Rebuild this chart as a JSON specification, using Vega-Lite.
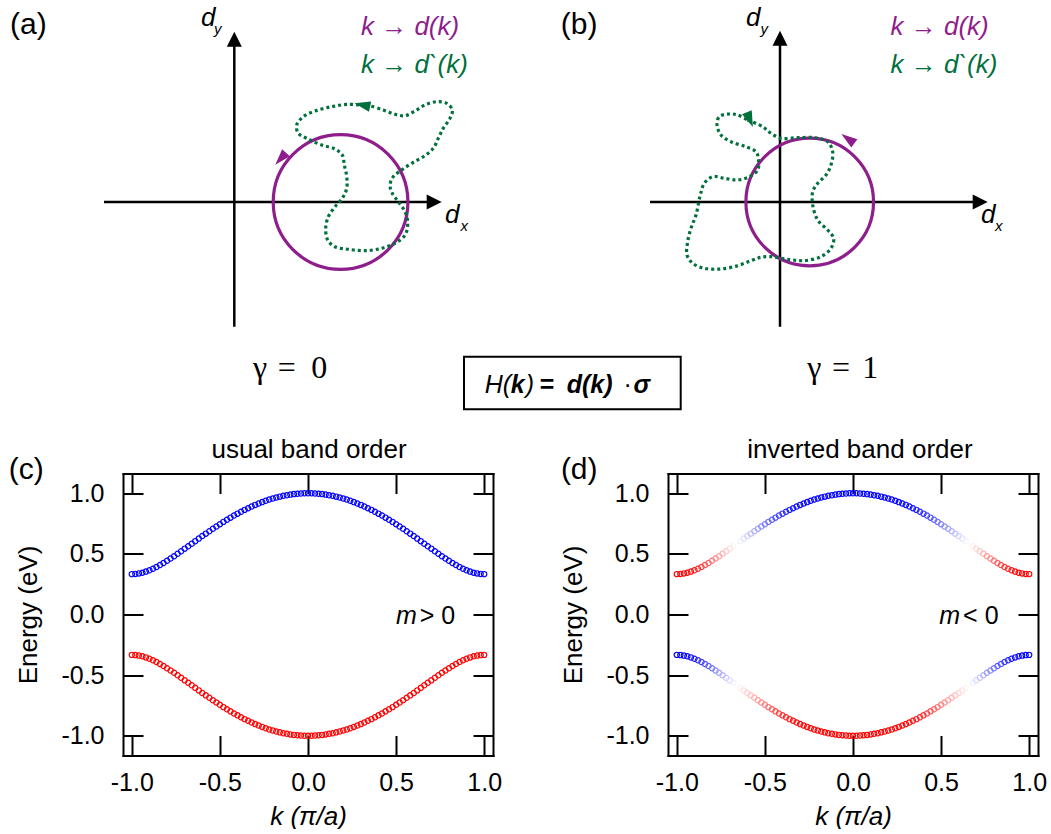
{
  "$schema": "https://vega.github.io/schema/vega-lite/v6.json",
  "background": "white",
  "padding": 0,
  "config": {
    "view": {"stroke": null},
    "font": "Liberation Sans",
    "text": {"font": "Liberation Sans", "color": "black"},
    "axis": {"labelColor": "black", "titleColor": "black", "domainColor": "black", "tickColor": "black", "grid": false, "labelFont": "Liberation Sans", "titleFont": "Liberation Sans", "titleFontWeight": "normal"}
  },
  "datasets": {
    "bands": [
      {"k":-1,"E":0.333,"b":"u","w":-1},{"k":-0.98,"E":0.335,"b":"u","w":-1},{"k":-0.96,"E":0.339,"b":"u","w":-0.99},{"k":-0.94,"E":0.345,"b":"u","w":-0.97},{"k":-0.92,"E":0.354,"b":"u","w":-0.94},{"k":-0.9,"E":0.365,"b":"u","w":-0.9},{"k":-0.88,"E":0.377,"b":"u","w":-0.84},{"k":-0.86,"E":0.392,"b":"u","w":-0.77},{"k":-0.84,"E":0.408,"b":"u","w":-0.7},{"k":-0.82,"E":0.425,"b":"u","w":-0.62},{"k":-0.8,"E":0.443,"b":"u","w":-0.54},{"k":-0.78,"E":0.462,"b":"u","w":-0.46},{"k":-0.76,"E":0.481,"b":"u","w":-0.38},{"k":-0.74,"E":0.501,"b":"u","w":-0.3},{"k":-0.72,"E":0.522,"b":"u","w":-0.22},{"k":-0.7,"E":0.543,"b":"u","w":-0.14},{"k":-0.68,"E":0.563,"b":"u","w":-0.07},{"k":-0.66,"E":0.584,"b":"u","w":0},{"k":-0.64,"E":0.605,"b":"u","w":0.06},{"k":-0.62,"E":0.626,"b":"u","w":0.12},{"k":-0.6,"E":0.647,"b":"u","w":0.18},{"k":-0.58,"E":0.667,"b":"u","w":0.24},{"k":-0.56,"E":0.687,"b":"u","w":0.31},{"k":-0.54,"E":0.707,"b":"u","w":0.37},{"k":-0.52,"E":0.726,"b":"u","w":0.44},{"k":-0.5,"E":0.745,"b":"u","w":0.5},{"k":-0.48,"E":0.764,"b":"u","w":0.56},{"k":-0.46,"E":0.782,"b":"u","w":0.62},{"k":-0.44,"E":0.799,"b":"u","w":0.68},{"k":-0.42,"E":0.816,"b":"u","w":0.74},{"k":-0.4,"E":0.832,"b":"u","w":0.79},{"k":-0.38,"E":0.848,"b":"u","w":0.84},{"k":-0.36,"E":0.863,"b":"u","w":0.88},{"k":-0.34,"E":0.877,"b":"u","w":0.92},{"k":-0.32,"E":0.891,"b":"u","w":0.95},{"k":-0.3,"E":0.904,"b":"u","w":0.97},{"k":-0.28,"E":0.916,"b":"u","w":1},{"k":-0.26,"E":0.927,"b":"u","w":1},{"k":-0.24,"E":0.938,"b":"u","w":1},{"k":-0.22,"E":0.948,"b":"u","w":1},{"k":-0.2,"E":0.957,"b":"u","w":1},{"k":-0.18,"E":0.965,"b":"u","w":1},{"k":-0.16,"E":0.972,"b":"u","w":1},{"k":-0.14,"E":0.979,"b":"u","w":1},{"k":-0.12,"E":0.984,"b":"u","w":1},{"k":-0.1,"E":0.989,"b":"u","w":1},{"k":-0.08,"E":0.993,"b":"u","w":1},{"k":-0.06,"E":0.996,"b":"u","w":1},{"k":-0.04,"E":0.998,"b":"u","w":1},{"k":-0.02,"E":1.0,"b":"u","w":1},{"k":0,"E":1.0,"b":"u","w":1},
      {"k":0.02,"E":1.0,"b":"u","w":1},{"k":0.04,"E":0.998,"b":"u","w":1},{"k":0.06,"E":0.996,"b":"u","w":1},{"k":0.08,"E":0.993,"b":"u","w":1},{"k":0.1,"E":0.989,"b":"u","w":1},{"k":0.12,"E":0.984,"b":"u","w":1},{"k":0.14,"E":0.979,"b":"u","w":1},{"k":0.16,"E":0.972,"b":"u","w":1},{"k":0.18,"E":0.965,"b":"u","w":1},{"k":0.2,"E":0.957,"b":"u","w":1},{"k":0.22,"E":0.948,"b":"u","w":1},{"k":0.24,"E":0.938,"b":"u","w":1},{"k":0.26,"E":0.927,"b":"u","w":1},{"k":0.28,"E":0.916,"b":"u","w":1},{"k":0.3,"E":0.904,"b":"u","w":0.97},{"k":0.32,"E":0.891,"b":"u","w":0.95},{"k":0.34,"E":0.877,"b":"u","w":0.92},{"k":0.36,"E":0.863,"b":"u","w":0.88},{"k":0.38,"E":0.848,"b":"u","w":0.84},{"k":0.4,"E":0.832,"b":"u","w":0.79},{"k":0.42,"E":0.816,"b":"u","w":0.74},{"k":0.44,"E":0.799,"b":"u","w":0.68},{"k":0.46,"E":0.782,"b":"u","w":0.62},{"k":0.48,"E":0.764,"b":"u","w":0.56},{"k":0.5,"E":0.745,"b":"u","w":0.5},{"k":0.52,"E":0.726,"b":"u","w":0.44},{"k":0.54,"E":0.707,"b":"u","w":0.37},{"k":0.56,"E":0.687,"b":"u","w":0.31},{"k":0.58,"E":0.667,"b":"u","w":0.24},{"k":0.6,"E":0.647,"b":"u","w":0.18},{"k":0.62,"E":0.626,"b":"u","w":0.12},{"k":0.64,"E":0.605,"b":"u","w":0.06},{"k":0.66,"E":0.584,"b":"u","w":0},{"k":0.68,"E":0.563,"b":"u","w":-0.07},{"k":0.7,"E":0.543,"b":"u","w":-0.14},{"k":0.72,"E":0.522,"b":"u","w":-0.22},{"k":0.74,"E":0.501,"b":"u","w":-0.3},{"k":0.76,"E":0.481,"b":"u","w":-0.38},{"k":0.78,"E":0.462,"b":"u","w":-0.46},{"k":0.8,"E":0.443,"b":"u","w":-0.54},{"k":0.82,"E":0.425,"b":"u","w":-0.62},{"k":0.84,"E":0.408,"b":"u","w":-0.7},{"k":0.86,"E":0.392,"b":"u","w":-0.77},{"k":0.88,"E":0.377,"b":"u","w":-0.84},{"k":0.9,"E":0.365,"b":"u","w":-0.9},{"k":0.92,"E":0.354,"b":"u","w":-0.94},{"k":0.94,"E":0.345,"b":"u","w":-0.97},{"k":0.96,"E":0.339,"b":"u","w":-0.99},{"k":0.98,"E":0.335,"b":"u","w":-1},{"k":1,"E":0.333,"b":"u","w":-1},
      {"k":-1,"E":-0.333,"b":"l","w":1},{"k":-0.98,"E":-0.335,"b":"l","w":1},{"k":-0.96,"E":-0.339,"b":"l","w":0.99},{"k":-0.94,"E":-0.345,"b":"l","w":0.97},{"k":-0.92,"E":-0.354,"b":"l","w":0.94},{"k":-0.9,"E":-0.365,"b":"l","w":0.9},{"k":-0.88,"E":-0.377,"b":"l","w":0.84},{"k":-0.86,"E":-0.392,"b":"l","w":0.77},{"k":-0.84,"E":-0.408,"b":"l","w":0.7},{"k":-0.82,"E":-0.425,"b":"l","w":0.62},{"k":-0.8,"E":-0.443,"b":"l","w":0.54},{"k":-0.78,"E":-0.462,"b":"l","w":0.46},{"k":-0.76,"E":-0.481,"b":"l","w":0.38},{"k":-0.74,"E":-0.501,"b":"l","w":0.3},{"k":-0.72,"E":-0.522,"b":"l","w":0.22},{"k":-0.7,"E":-0.543,"b":"l","w":0.14},{"k":-0.68,"E":-0.563,"b":"l","w":0.07},{"k":-0.66,"E":-0.584,"b":"l","w":0},{"k":-0.64,"E":-0.605,"b":"l","w":-0.06},{"k":-0.62,"E":-0.626,"b":"l","w":-0.12},{"k":-0.6,"E":-0.647,"b":"l","w":-0.18},{"k":-0.58,"E":-0.667,"b":"l","w":-0.24},{"k":-0.56,"E":-0.687,"b":"l","w":-0.31},{"k":-0.54,"E":-0.707,"b":"l","w":-0.37},{"k":-0.52,"E":-0.726,"b":"l","w":-0.44},{"k":-0.5,"E":-0.745,"b":"l","w":-0.5},{"k":-0.48,"E":-0.764,"b":"l","w":-0.56},{"k":-0.46,"E":-0.782,"b":"l","w":-0.62},{"k":-0.44,"E":-0.799,"b":"l","w":-0.68},{"k":-0.42,"E":-0.816,"b":"l","w":-0.74},{"k":-0.4,"E":-0.832,"b":"l","w":-0.79},{"k":-0.38,"E":-0.848,"b":"l","w":-0.84},{"k":-0.36,"E":-0.863,"b":"l","w":-0.88},{"k":-0.34,"E":-0.877,"b":"l","w":-0.92},{"k":-0.32,"E":-0.891,"b":"l","w":-0.95},{"k":-0.3,"E":-0.904,"b":"l","w":-0.97},{"k":-0.28,"E":-0.916,"b":"l","w":-1},{"k":-0.26,"E":-0.927,"b":"l","w":-1},{"k":-0.24,"E":-0.938,"b":"l","w":-1},{"k":-0.22,"E":-0.948,"b":"l","w":-1},{"k":-0.2,"E":-0.957,"b":"l","w":-1},{"k":-0.18,"E":-0.965,"b":"l","w":-1},{"k":-0.16,"E":-0.972,"b":"l","w":-1},{"k":-0.14,"E":-0.979,"b":"l","w":-1},{"k":-0.12,"E":-0.984,"b":"l","w":-1},{"k":-0.1,"E":-0.989,"b":"l","w":-1},{"k":-0.08,"E":-0.993,"b":"l","w":-1},{"k":-0.06,"E":-0.996,"b":"l","w":-1},{"k":-0.04,"E":-0.998,"b":"l","w":-1},{"k":-0.02,"E":-1.0,"b":"l","w":-1},{"k":0,"E":-1.0,"b":"l","w":-1},
      {"k":0.02,"E":-1.0,"b":"l","w":-1},{"k":0.04,"E":-0.998,"b":"l","w":-1},{"k":0.06,"E":-0.996,"b":"l","w":-1},{"k":0.08,"E":-0.993,"b":"l","w":-1},{"k":0.1,"E":-0.989,"b":"l","w":-1},{"k":0.12,"E":-0.984,"b":"l","w":-1},{"k":0.14,"E":-0.979,"b":"l","w":-1},{"k":0.16,"E":-0.972,"b":"l","w":-1},{"k":0.18,"E":-0.965,"b":"l","w":-1},{"k":0.2,"E":-0.957,"b":"l","w":-1},{"k":0.22,"E":-0.948,"b":"l","w":-1},{"k":0.24,"E":-0.938,"b":"l","w":-1},{"k":0.26,"E":-0.927,"b":"l","w":-1},{"k":0.28,"E":-0.916,"b":"l","w":-1},{"k":0.3,"E":-0.904,"b":"l","w":-0.97},{"k":0.32,"E":-0.891,"b":"l","w":-0.95},{"k":0.34,"E":-0.877,"b":"l","w":-0.92},{"k":0.36,"E":-0.863,"b":"l","w":-0.88},{"k":0.38,"E":-0.848,"b":"l","w":-0.84},{"k":0.4,"E":-0.832,"b":"l","w":-0.79},{"k":0.42,"E":-0.816,"b":"l","w":-0.74},{"k":0.44,"E":-0.799,"b":"l","w":-0.68},{"k":0.46,"E":-0.782,"b":"l","w":-0.62},{"k":0.48,"E":-0.764,"b":"l","w":-0.56},{"k":0.5,"E":-0.745,"b":"l","w":-0.5},{"k":0.52,"E":-0.726,"b":"l","w":-0.44},{"k":0.54,"E":-0.707,"b":"l","w":-0.37},{"k":0.56,"E":-0.687,"b":"l","w":-0.31},{"k":0.58,"E":-0.667,"b":"l","w":-0.24},{"k":0.6,"E":-0.647,"b":"l","w":-0.18},{"k":0.62,"E":-0.626,"b":"l","w":-0.12},{"k":0.64,"E":-0.605,"b":"l","w":-0.06},{"k":0.66,"E":-0.584,"b":"l","w":0},{"k":0.68,"E":-0.563,"b":"l","w":0.07},{"k":0.7,"E":-0.543,"b":"l","w":0.14},{"k":0.72,"E":-0.522,"b":"l","w":0.22},{"k":0.74,"E":-0.501,"b":"l","w":0.3},{"k":0.76,"E":-0.481,"b":"l","w":0.38},{"k":0.78,"E":-0.462,"b":"l","w":0.46},{"k":0.8,"E":-0.443,"b":"l","w":0.54},{"k":0.82,"E":-0.425,"b":"l","w":0.62},{"k":0.84,"E":-0.408,"b":"l","w":0.7},{"k":0.86,"E":-0.392,"b":"l","w":0.77},{"k":0.88,"E":-0.377,"b":"l","w":0.84},{"k":0.9,"E":-0.365,"b":"l","w":0.9},{"k":0.92,"E":-0.354,"b":"l","w":0.94},{"k":0.94,"E":-0.345,"b":"l","w":0.97},{"k":0.96,"E":-0.339,"b":"l","w":0.99},{"k":0.98,"E":-0.335,"b":"l","w":1},{"k":1,"E":-0.333,"b":"l","w":1}
    ],
    "curveA": [
      {"i":1,"x":1.697,"y":1.251},{"i":2,"x":1.481,"y":1.269},{"i":3,"x":1.265,"y":1.238},{"i":4,"x":1.048,"y":1.182},{"i":5,"x":0.896,"y":1.108},{"i":6,"x":0.81,"y":1.0},{"i":7,"x":0.831,"y":0.892},{"i":8,"x":0.961,"y":0.818},{"i":9,"x":1.135,"y":0.74},{"i":10,"x":1.308,"y":0.688},{"i":11,"x":1.403,"y":0.61},{"i":12,"x":1.429,"y":0.481},{"i":13,"x":1.46,"y":0.329},{"i":14,"x":1.46,"y":0.178},{"i":15,"x":1.403,"y":0.048},{"i":16,"x":1.308,"y":-0.061},{"i":17,"x":1.221,"y":-0.191},{"i":18,"x":1.187,"y":-0.342},{"i":19,"x":1.213,"y":-0.494},{"i":20,"x":1.308,"y":-0.581},{"i":21,"x":1.481,"y":-0.614},{"i":22,"x":1.697,"y":-0.632},{"i":23,"x":1.914,"y":-0.601},{"i":24,"x":2.087,"y":-0.536},{"i":25,"x":2.217,"y":-0.429},{"i":26,"x":2.252,"y":-0.277},{"i":27,"x":2.217,"y":-0.126},{"i":28,"x":2.13,"y":0.004},{"i":29,"x":2.052,"y":0.113},{"i":30,"x":2.022,"y":0.221},{"i":31,"x":2.065,"y":0.329},{"i":32,"x":2.174,"y":0.416},{"i":33,"x":2.304,"y":0.503},{"i":34,"x":2.455,"y":0.588},{"i":35,"x":2.584,"y":0.697},{"i":36,"x":2.649,"y":0.827},{"i":37,"x":2.714,"y":0.957},{"i":38,"x":2.801,"y":1.087},{"i":39,"x":2.831,"y":1.195},{"i":40,"x":2.758,"y":1.282},{"i":41,"x":2.629,"y":1.303},{"i":42,"x":2.477,"y":1.26},{"i":43,"x":2.347,"y":1.182},{"i":44,"x":2.217,"y":1.121},{"i":45,"x":2.087,"y":1.139},{"i":46,"x":1.935,"y":1.195},{"i":47,"x":1.762,"y":1.247},{"i":48,"x":1.697,"y":1.251}
    ],
    "curveB": [
      {"i":1,"x":-0.42,"y":1.065},{"i":2,"x":-0.225,"y":0.978},{"i":3,"x":-0.117,"y":0.892},{"i":4,"x":0.013,"y":0.827},{"i":5,"x":0.23,"y":0.835},{"i":6,"x":0.446,"y":0.835},{"i":7,"x":0.619,"y":0.783},{"i":8,"x":0.684,"y":0.653},{"i":9,"x":0.662,"y":0.481},{"i":10,"x":0.597,"y":0.351},{"i":11,"x":0.49,"y":0.243},{"i":12,"x":0.425,"y":0.134},{"i":13,"x":0.425,"y":-0.039},{"i":14,"x":0.49,"y":-0.234},{"i":15,"x":0.619,"y":-0.364},{"i":16,"x":0.697,"y":-0.471},{"i":17,"x":0.662,"y":-0.601},{"i":18,"x":0.532,"y":-0.71},{"i":19,"x":0.316,"y":-0.762},{"i":20,"x":0.1,"y":-0.744},{"i":21,"x":-0.117,"y":-0.71},{"i":22,"x":-0.247,"y":-0.718},{"i":23,"x":-0.377,"y":-0.762},{"i":24,"x":-0.549,"y":-0.827},{"i":25,"x":-0.766,"y":-0.87},{"i":26,"x":-0.983,"y":-0.861},{"i":27,"x":-1.134,"y":-0.796},{"i":28,"x":-1.208,"y":-0.688},{"i":29,"x":-1.199,"y":-0.516},{"i":30,"x":-1.156,"y":-0.342},{"i":31,"x":-1.091,"y":-0.169},{"i":32,"x":-1.035,"y":0.091},{"i":33,"x":-0.983,"y":0.243},{"i":34,"x":-0.874,"y":0.329},{"i":35,"x":-0.723,"y":0.308},{"i":36,"x":-0.549,"y":0.286},{"i":37,"x":-0.399,"y":0.329},{"i":38,"x":-0.29,"y":0.416},{"i":39,"x":-0.282,"y":0.567},{"i":40,"x":-0.312,"y":0.653},{"i":41,"x":-0.442,"y":0.718},{"i":42,"x":-0.636,"y":0.783},{"i":43,"x":-0.766,"y":0.87},{"i":44,"x":-0.818,"y":1.0},{"i":45,"x":-0.788,"y":1.108},{"i":46,"x":-0.658,"y":1.143},{"i":47,"x":-0.549,"y":1.13},{"i":48,"x":-0.42,"y":1.065}
    ]
  },
  "bounds": "full",
  "spacing": 6.5,
  "vconcat": [
    {
      "bounds": "flush",
      "spacing": 0,
      "hconcat": [
        {
          "width": 463.3,
          "height": 430,
          "encoding": {
            "x": {"field": "x", "type": "quantitative", "scale": {"domain": [-3.0429, 2.974], "nice": false, "zero": false}, "axis": null},
            "y": {"field": "y", "type": "quantitative", "scale": {"domain": [-2.961, 2.6234], "nice": false, "zero": false}, "axis": null}
          },
          "layer": [
            {"data": {"values": [{"x": -1.692, "y": 0, "x2": 2.62, "y2": 0}, {"x": 0, "y": -1.619, "x2": 0, "y2": 2.1}]}, "mark": {"type": "rule", "color": "black", "strokeWidth": 2.5}, "encoding": {"x2": {"field": "x2"}, "y2": {"field": "y2"}}},
            {"data": {"values": [{"x": 2.596, "y": 0, "dir": 90}, {"x": 0, "y": 2.114, "dir": 0}]}, "mark": {"type": "point", "shape": "M0,-1L1,1L-1,1Z", "filled": true, "size": 225, "color": "black", "opacity": 1}, "encoding": {"angle": {"field": "dir", "type": "quantitative", "scale": null}}},
            {"data": {"values": [{"x": 1.38, "y": 0}]}, "mark": {"type": "point", "shape": "circle", "filled": false, "size": 18146, "color": "#8E1E8C", "strokeWidth": 3.2, "opacity": 1}},
            {"data": {"name": "curveA"}, "mark": {"type": "line", "color": "#00703C", "strokeWidth": 3.2, "strokeDash": [3, 3], "strokeCap": "butt", "interpolate": "catmull-rom"}, "encoding": {"order": {"field": "i", "type": "quantitative"}}},
            {"data": {"values": [{"x": 0.602, "y": 0.562, "dir": 222}]}, "mark": {"type": "point", "shape": "M0,-1L0.65,1L-0.65,1Z", "filled": true, "size": 256, "color": "#8E1E8C", "opacity": 1}, "encoding": {"angle": {"field": "dir", "type": "quantitative", "scale": null}}},
            {"data": {"values": [{"x": 1.662, "y": 1.261, "dir": 282}]}, "mark": {"type": "point", "shape": "M0,-1L0.65,1L-0.65,1Z", "filled": true, "size": 256, "color": "#00703C", "opacity": 1}, "encoding": {"angle": {"field": "dir", "type": "quantitative", "scale": null}}},
            {"data": {"values": [{"x": -2.913, "y": 2.182, "t": "(a)"}]}, "mark": {"type": "text", "fontSize": 30, "align": "left", "baseline": "alphabetic"}, "encoding": {"text": {"field": "t"}}},
            {"data": {"values": [{"x": -0.432, "y": 2.292, "t": "d"}, {"x": 2.736, "y": -0.277, "t": "d"}]}, "mark": {"type": "text", "fontSize": 26, "fontStyle": "italic", "align": "left", "baseline": "alphabetic"}, "encoding": {"text": {"field": "t"}}},
            {"data": {"values": [{"x": -0.264, "y": 2.188, "t": "y"}, {"x": 2.938, "y": -0.383, "t": "x"}]}, "mark": {"type": "text", "fontSize": 15, "fontStyle": "italic", "align": "left", "baseline": "alphabetic"}, "encoding": {"text": {"field": "t"}}},
            {"data": {"values": [{"x": 1.645, "y": 2.169, "t": "k → d(k)"}]}, "mark": {"type": "text", "fontSize": 26, "fontStyle": "italic", "align": "left", "baseline": "alphabetic", "color": "#8E1E8C"}, "encoding": {"text": {"field": "t"}}},
            {"data": {"values": [{"x": 1.645, "y": 1.671, "t": "k → d`(k)"}]}, "mark": {"type": "text", "fontSize": 26, "fontStyle": "italic", "align": "left", "baseline": "alphabetic", "color": "#00703C"}, "encoding": {"text": {"field": "t"}}},
            {"data": {"values": [{"x": 0.334, "y": -2.29, "t": "γ"}, {"x": 0.681, "y": -2.29, "t": "="}, {"x": 1.103, "y": -2.29, "t": "0"}]}, "mark": {"type": "text", "font": "Liberation Serif", "fontSize": 32, "align": "center", "baseline": "alphabetic"}, "encoding": {"text": {"field": "t"}}}
          ]
        },
        {
          "width": 216.7,
          "height": 430,
          "encoding": {
            "x": {"field": "x", "type": "quantitative", "scale": {"domain": [0, 1], "nice": false, "zero": false}, "axis": null},
            "y": {"field": "y", "type": "quantitative", "scale": {"domain": [-2.961, 2.6234], "nice": false, "zero": false}, "axis": null}
          },
          "layer": [
            {"data": {"values": [{"x": 0, "x2": 1, "y": -2.009, "y2": -2.692}]}, "mark": {"type": "rect", "fill": "white", "fillOpacity": 0, "stroke": "black", "strokeWidth": 2}, "encoding": {"x2": {"field": "x2"}, "y2": {"field": "y2"}}},
            {"data": {"values": [{"x": 0.0955, "y": -2.484, "t": "H("}, {"x": 0.2847, "y": -2.484, "t": ")"}]}, "mark": {"type": "text", "fontSize": 25, "fontStyle": "italic", "align": "left", "baseline": "alphabetic"}, "encoding": {"text": {"field": "t"}}},
            {"data": {"values": [{"x": 0.2155, "y": -2.484, "t": "k"}, {"x": 0.4739, "y": -2.484, "t": "d(k)"}, {"x": 0.7826, "y": -2.484, "t": "σ"}]}, "mark": {"type": "text", "fontSize": 25, "fontStyle": "italic", "fontWeight": "bold", "align": "left", "baseline": "alphabetic"}, "encoding": {"text": {"field": "t"}}},
            {"data": {"values": [{"x": 0.3493, "y": -2.484, "t": "="}]}, "mark": {"type": "text", "fontSize": 25, "fontWeight": "bold", "align": "left", "baseline": "alphabetic"}, "encoding": {"text": {"field": "t"}}},
            {"data": {"values": [{"x": 0.7554, "y": -2.484, "t": "·"}]}, "mark": {"type": "text", "fontSize": 25, "align": "center", "baseline": "alphabetic"}, "encoding": {"text": {"field": "t"}}}
          ]
        },
        {
          "width": 371,
          "height": 430,
          "encoding": {
            "x": {"field": "x", "type": "quantitative", "scale": {"domain": [-1.2857, 3.5325], "nice": false, "zero": false}, "axis": null},
            "y": {"field": "y", "type": "quantitative", "scale": {"domain": [-2.961, 2.6234], "nice": false, "zero": false}, "axis": null}
          },
          "layer": [
            {"data": {"values": [{"x": -1.688, "y": 0, "x2": 2.62, "y2": 0}, {"x": 0, "y": -1.619, "x2": 0, "y2": 2.11}]}, "mark": {"type": "rule", "color": "black", "strokeWidth": 2.5}, "encoding": {"x2": {"field": "x2"}, "y2": {"field": "y2"}}},
            {"data": {"values": [{"x": 2.6, "y": 0, "dir": 90}, {"x": 0, "y": 2.127, "dir": 0}]}, "mark": {"type": "point", "shape": "M0,-1L1,1L-1,1Z", "filled": true, "size": 225, "color": "black", "opacity": 1}, "encoding": {"angle": {"field": "dir", "type": "quantitative", "scale": null}}},
            {"data": {"values": [{"x": 0.386, "y": 0}]}, "mark": {"type": "point", "shape": "circle", "filled": false, "size": 16286, "color": "#8E1E8C", "strokeWidth": 3.2, "opacity": 1}},
            {"data": {"name": "curveB"}, "mark": {"type": "line", "color": "#00703C", "strokeWidth": 3.2, "strokeDash": [3, 3], "strokeCap": "butt", "interpolate": "catmull-rom"}, "encoding": {"order": {"field": "i", "type": "quantitative"}}},
            {"data": {"values": [{"x": 0.881, "y": 0.822, "dir": 306}]}, "mark": {"type": "point", "shape": "M0,-1L0.65,1L-0.65,1Z", "filled": true, "size": 256, "color": "#8E1E8C", "opacity": 1}, "encoding": {"angle": {"field": "dir", "type": "quantitative", "scale": null}}},
            {"data": {"values": [{"x": -0.391, "y": 1.069, "dir": 158}]}, "mark": {"type": "point", "shape": "M0,-1L0.65,1L-0.65,1Z", "filled": true, "size": 256, "color": "#00703C", "opacity": 1}, "encoding": {"angle": {"field": "dir", "type": "quantitative", "scale": null}}},
            {"data": {"values": [{"x": -2.848, "y": 2.182, "t": "(b)"}]}, "mark": {"type": "text", "fontSize": 30, "align": "left", "baseline": "alphabetic"}, "encoding": {"text": {"field": "t"}}},
            {"data": {"values": [{"x": -0.442, "y": 2.292, "t": "d"}, {"x": 2.61, "y": -0.277, "t": "d"}]}, "mark": {"type": "text", "fontSize": 26, "fontStyle": "italic", "align": "left", "baseline": "alphabetic"}, "encoding": {"text": {"field": "t"}}},
            {"data": {"values": [{"x": -0.253, "y": 2.188, "t": "y"}, {"x": 2.792, "y": -0.383, "t": "x"}]}, "mark": {"type": "text", "fontSize": 15, "fontStyle": "italic", "align": "left", "baseline": "alphabetic"}, "encoding": {"text": {"field": "t"}}},
            {"data": {"values": [{"x": 1.435, "y": 2.169, "t": "k → d(k)"}]}, "mark": {"type": "text", "fontSize": 26, "fontStyle": "italic", "align": "left", "baseline": "alphabetic", "color": "#8E1E8C"}, "encoding": {"text": {"field": "t"}}},
            {"data": {"values": [{"x": 1.435, "y": 1.671, "t": "k → d`(k)"}]}, "mark": {"type": "text", "fontSize": 26, "fontStyle": "italic", "align": "left", "baseline": "alphabetic", "color": "#00703C"}, "encoding": {"text": {"field": "t"}}},
            {"data": {"values": [{"x": 0.445, "y": -2.29, "t": "γ"}, {"x": 0.792, "y": -2.29, "t": "="}, {"x": 1.171, "y": -2.29, "t": "1"}]}, "mark": {"type": "text", "font": "Liberation Serif", "fontSize": 32, "align": "center", "baseline": "alphabetic"}, "encoding": {"text": {"field": "t"}}}
          ]
        }
      ]
    },
    {
      "bounds": "flush",
      "spacing": 0,
      "hconcat": [
        {"width": 122.3, "height": 282, "data": {"values": [{"z": 0}]}, "mark": {"type": "point", "opacity": 0}},
        {
          "width": 370,
          "height": 282,
          "resolve": {"axis": {"x": "independent", "y": "independent"}},
          "layer": [
            {
              "data": {"name": "bands"},
              "mark": {"type": "point", "filled": false, "size": 28, "strokeWidth": 1.2, "opacity": 1},
              "encoding": {
                "x": {"field": "k", "type": "quantitative", "scale": {"domain": [-1.05, 1.05], "nice": false, "zero": false},
                  "axis": {"orient": "bottom", "values": [-1, -0.5, 0, 0.5, 1], "format": ".1f", "labelExpr": "replace(datum.label, '−', '-')", "tickSize": -20, "tickWidth": 2, "domainWidth": 2, "domainCap": "square", "labelFontSize": 25, "labelPadding": 34.5, "labelFlush": false, "labelOverlap": false, "title": "k (π/a)", "titleFontSize": 26, "titleFontStyle": "italic", "titlePadding": 8}},
                "y": {"field": "E", "type": "quantitative", "scale": {"domain": [-1.163, 1.163], "nice": false, "zero": false},
                  "axis": {"orient": "left", "values": [-1, -0.5, 0, 0.5, 1], "format": ".1f", "labelExpr": "replace(datum.label, '−', '-')", "tickSize": -20, "tickWidth": 2, "domainWidth": 2, "domainCap": "square", "labelFontSize": 25, "labelPadding": 39, "labelFlush": false, "labelOverlap": false, "title": "Energy (eV)", "titleFontSize": 26, "titlePadding": 19}},
                "color": {"field": "b", "type": "nominal", "scale": {"domain": ["u", "l"], "range": ["#0000ff", "#ff0000"]}, "legend": null}
              }
            },
            {
              "data": {"values": [{"k": 0.617, "E": -0.076, "t": "m"}]},
              "mark": {"type": "text", "fontSize": 25, "fontStyle": "italic", "align": "right", "baseline": "alphabetic"},
              "encoding": {
                "x": {"field": "k", "type": "quantitative", "scale": {"domain": [-1.05, 1.05], "nice": false, "zero": false},
                  "axis": {"orient": "top", "values": [-1, -0.5, 0, 0.5, 1], "labels": false, "tickSize": -20, "tickWidth": 2, "domainWidth": 2, "domainCap": "square", "title": null}},
                "y": {"field": "E", "type": "quantitative", "scale": {"domain": [-1.163, 1.163], "nice": false, "zero": false},
                  "axis": {"orient": "right", "values": [-1, -0.5, 0, 0.5, 1], "labels": false, "tickSize": -20, "tickWidth": 2, "domainWidth": 2, "domainCap": "square", "title": null}},
                "text": {"field": "t"}
              }
            },
            {
              "data": {"values": [{"k": 0.634, "E": -0.076, "t": "> 0"}]},
              "mark": {"type": "text", "fontSize": 25, "align": "left", "baseline": "alphabetic"},
              "encoding": {
                "x": {"field": "k", "type": "quantitative", "scale": {"domain": [-1.05, 1.05], "nice": false, "zero": false}, "axis": null},
                "y": {"field": "E", "type": "quantitative", "scale": {"domain": [-1.163, 1.163], "nice": false, "zero": false}, "axis": null},
                "text": {"field": "t"}
              }
            },
            {
              "data": {"values": [{"k": -1.699, "E": 1.114, "t": "(c)"}]},
              "mark": {"type": "text", "fontSize": 30, "align": "left", "baseline": "alphabetic"},
              "encoding": {
                "x": {"field": "k", "type": "quantitative", "scale": {"domain": [-1.05, 1.05], "nice": false, "zero": false}, "axis": null},
                "y": {"field": "E", "type": "quantitative", "scale": {"domain": [-1.163, 1.163], "nice": false, "zero": false}, "axis": null},
                "text": {"field": "t"}
              }
            },
            {
              "data": {"values": [{"k": 0.006, "E": 1.293, "t": "usual band order"}]},
              "mark": {"type": "text", "fontSize": 26, "align": "center", "baseline": "alphabetic"},
              "encoding": {
                "x": {"field": "k", "type": "quantitative", "scale": {"domain": [-1.05, 1.05], "nice": false, "zero": false}, "axis": null},
                "y": {"field": "E", "type": "quantitative", "scale": {"domain": [-1.163, 1.163], "nice": false, "zero": false}, "axis": null},
                "text": {"field": "t"}
              }
            }
          ]
        },
        {"width": 174.5, "height": 282, "data": {"values": [{"z": 0}]}, "mark": {"type": "point", "opacity": 0}},
        {
          "width": 370,
          "height": 282,
          "resolve": {"axis": {"x": "independent", "y": "independent"}},
          "layer": [
            {
              "data": {"name": "bands"},
              "mark": {"type": "point", "filled": false, "size": 28, "strokeWidth": 1.2, "opacity": 1},
              "encoding": {
                "x": {"field": "k", "type": "quantitative", "scale": {"domain": [-1.05, 1.05], "nice": false, "zero": false},
                  "axis": {"orient": "bottom", "values": [-1, -0.5, 0, 0.5, 1], "format": ".1f", "labelExpr": "replace(datum.label, '−', '-')", "tickSize": -20, "tickWidth": 2, "domainWidth": 2, "domainCap": "square", "labelFontSize": 25, "labelPadding": 34.5, "labelFlush": false, "labelOverlap": false, "title": "k (π/a)", "titleFontSize": 26, "titleFontStyle": "italic", "titlePadding": 8}},
                "y": {"field": "E", "type": "quantitative", "scale": {"domain": [-1.163, 1.163], "nice": false, "zero": false},
                  "axis": {"orient": "left", "values": [-1, -0.5, 0, 0.5, 1], "format": ".1f", "labelExpr": "replace(datum.label, '−', '-')", "tickSize": -20, "tickWidth": 2, "domainWidth": 2, "domainCap": "square", "labelFontSize": 25, "labelPadding": 39, "labelFlush": false, "labelOverlap": false, "title": "Energy (eV)", "titleFontSize": 26, "titlePadding": 19}},
                "color": {"field": "w", "type": "quantitative", "scale": {"domain": [-1, 0, 1], "range": ["#ff0000", "#ffffff", "#0000ff"], "interpolate": "rgb"}, "legend": null}
              }
            },
            {
              "data": {"values": [{"k": 0.608, "E": -0.076, "t": "m"}]},
              "mark": {"type": "text", "fontSize": 25, "fontStyle": "italic", "align": "right", "baseline": "alphabetic"},
              "encoding": {
                "x": {"field": "k", "type": "quantitative", "scale": {"domain": [-1.05, 1.05], "nice": false, "zero": false},
                  "axis": {"orient": "top", "values": [-1, -0.5, 0, 0.5, 1], "labels": false, "tickSize": -20, "tickWidth": 2, "domainWidth": 2, "domainCap": "square", "title": null}},
                "y": {"field": "E", "type": "quantitative", "scale": {"domain": [-1.163, 1.163], "nice": false, "zero": false},
                  "axis": {"orient": "right", "values": [-1, -0.5, 0, 0.5, 1], "labels": false, "tickSize": -20, "tickWidth": 2, "domainWidth": 2, "domainCap": "square", "title": null}},
                "text": {"field": "t"}
              }
            },
            {
              "data": {"values": [{"k": 0.625, "E": -0.076, "t": "< 0"}]},
              "mark": {"type": "text", "fontSize": 25, "align": "left", "baseline": "alphabetic"},
              "encoding": {
                "x": {"field": "k", "type": "quantitative", "scale": {"domain": [-1.05, 1.05], "nice": false, "zero": false}, "axis": null},
                "y": {"field": "E", "type": "quantitative", "scale": {"domain": [-1.163, 1.163], "nice": false, "zero": false}, "axis": null},
                "text": {"field": "t"}
              }
            },
            {
              "data": {"values": [{"k": -1.658, "E": 1.114, "t": "(d)"}]},
              "mark": {"type": "text", "fontSize": 30, "align": "left", "baseline": "alphabetic"},
              "encoding": {
                "x": {"field": "k", "type": "quantitative", "scale": {"domain": [-1.05, 1.05], "nice": false, "zero": false}, "axis": null},
                "y": {"field": "E", "type": "quantitative", "scale": {"domain": [-1.163, 1.163], "nice": false, "zero": false}, "axis": null},
                "text": {"field": "t"}
              }
            },
            {
              "data": {"values": [{"k": 0.039, "E": 1.293, "t": "inverted band order"}]},
              "mark": {"type": "text", "fontSize": 26, "align": "center", "baseline": "alphabetic"},
              "encoding": {
                "x": {"field": "k", "type": "quantitative", "scale": {"domain": [-1.05, 1.05], "nice": false, "zero": false}, "axis": null},
                "y": {"field": "E", "type": "quantitative", "scale": {"domain": [-1.163, 1.163], "nice": false, "zero": false}, "axis": null},
                "text": {"field": "t"}
              }
            }
          ]
        }
      ]
    }
  ]
}
